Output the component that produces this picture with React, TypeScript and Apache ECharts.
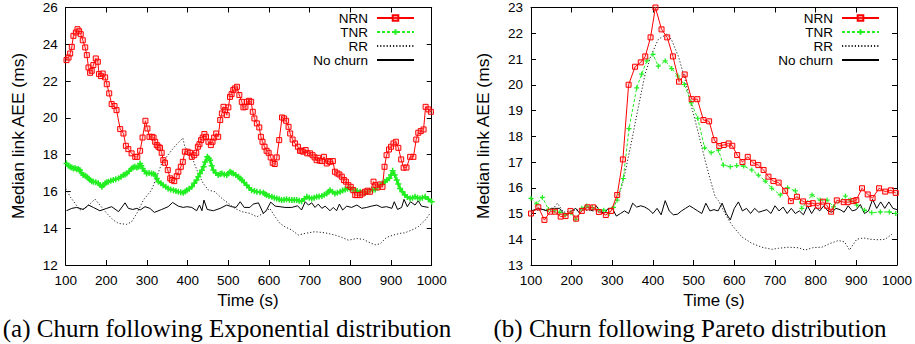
import React, { useEffect, useRef } from "react";
import * as echarts from "echarts";

// ---------- Data: (a) Exponential churn ----------
const expNRN: [number, number][] = [
  [102,23.14],[107,23.28],[111,23.5],[115,23.86],[119,24.46],[125,24.64],[129,24.82],[133,24.71],[137,24.55],[142,24.22],
  [148,23.83],[152,23.41],[156,22.74],[160,22.45],[164,22.56],[168,22.87],[174,23.23],[179,23.05],[182,22.38],[187,22.27],
  [191,22.41],[197,22.2],[201,21.83],[207,21.33],[213,20.75],[220,20.64],[225,20.42],[234,19.39],[242,19.15],[248,18.48],
  [254,18.3],[262,18.07],[271,17.88],[276,17.88],[283,18.21],[289,18.93],[296,19.84],[301,19.42],[306,18.97],[312,18.97],
  [316,18.93],[320,18.7],[324,18.52],[328,18.43],[332,18.37],[336,18.1],[340,17.7],[344,17.56],[351,17.16],[357,16.71],
  [361,16.62],[367,16.56],[373,16.83],[377,17.07],[383,17.34],[388,17.61],[393,18.16],[400,18.16],[406,18.1],[410,17.88],
  [416,17.97],[421,18.1],[425,18.43],[429,18.57],[433,18.79],[437,18.93],[441,19.12],[445,18.97],[451,18.7],[457,18.52],
  [461,18.7],[465,18.93],[470,19.15],[475,18.97],[480,19.88],[484,20.24],[488,20.6],[492,20.42],[496,20.15],[500,20.57],
  [504,21.14],[508,21.29],[512,21.51],[516,21.6],[521,21.69],[527,21.24],[533,20.87],[537,20.57],[542,20.6],[546,20.87],
  [551,20.93],[556,20.87],[560,20.33],[564,19.97],[570,19.7],[576,19.48],[580,18.97],[584,18.7],[589,18.43],[594,18.21],
  [599,18.1],[604,17.85],[609,17.56],[614,17.49],[619,17.85],[625,18.79],[632,20.02],[637,19.97],[642,19.84],[648,19.51],
  [652,19.15],[658,18.82],[664,18.61],[671,18.43],[676,18.21],[680,18.21],[684,18.16],[690,18.25],[694,18.07],[701,18.07],
  [707,17.97],[712,17.85],[717,17.7],[721,17.83],[725,17.67],[730,17.65],[735,17.88],[742,17.52],[746,17.65],[750,17.61],
  [757,17.65],[762,17.07],[768,16.98],[773,16.92],[779,16.8],[784,16.62],[789,16.53],[795,16.34],[801,16.25],[807,16.07],
  [812,15.8],[817,15.8],[824,15.8],[830,15.89],[836,15.98],[842,16.04],[848,15.98],[857,16.53],[862,16.34],[867,16.22],
  [873,16.38],[879,16.25],[884,17.34],[889,17.97],[895,18.28],[900,18.43],[906,18.61],[912,18.7],[918,18.37],[925,17.74],
  [931,17.29],[938,17.3],[947,17.88],[955,17.88],[962,18.82],[967,19.19],[973,19.28],[980,19.37],[985,20.6],[992,20.46],
  [998,20.33]
];
const expTNR: [number, number][] = [
  [102,17.52],[107,17.4],[111,17.34],[115,17.3],[119,17.25],[123,17.28],[127,17.2],[131,17.22],[135,17.16],[139,17.0],
  [143,16.89],[148,16.85],[152,16.8],[156,16.7],[160,16.62],[164,16.55],[168,16.53],[174,16.5],[180,16.44],[185,16.35],
  [189,16.25],[193,16.35],[197,16.44],[201,16.5],[205,16.53],[211,16.58],[217,16.62],[223,16.66],[230,16.71],[236,16.8],
  [242,16.89],[246,16.92],[250,16.98],[256,17.1],[262,17.25],[266,17.3],[270,17.34],[275,17.3],[279,17.34],[283,17.52],
  [286,17.4],[289,17.25],[294,17.1],[299,16.98],[305,17.0],[311,16.98],[316,16.95],[320,16.89],[324,16.7],[328,16.53],
  [334,16.45],[340,16.34],[346,16.25],[352,16.16],[358,16.1],[365,16.07],[371,16.02],[377,15.98],[383,15.95],[389,15.93],
  [394,16.0],[398,16.07],[404,16.15],[410,16.25],[416,16.45],[422,16.62],[426,16.8],[430,16.98],[435,17.15],[439,17.34],
  [443,17.6],[448,17.88],[452,17.8],[455,17.7],[459,17.4],[463,17.16],[469,17.0],[475,16.89],[480,16.95],[484,16.98],
  [490,16.92],[496,16.89],[500,16.98],[504,17.07],[508,17.02],[512,16.98],[518,16.9],[525,16.8],[529,16.7],[533,16.62],
  [539,16.48],[545,16.34],[551,16.2],[557,16.07],[564,16.02],[570,15.98],[578,15.95],[586,15.93],[590,15.86],[594,15.8],
  [600,15.75],[607,15.71],[613,15.66],[619,15.62],[625,15.57],[631,15.53],[637,15.55],[643,15.58],[650,15.55],[656,15.53],
  [662,15.53],[668,15.53],[674,15.5],[680,15.47],[687,15.6],[693,15.71],[699,15.66],[705,15.62],[711,15.66],[717,15.71],
  [723,15.73],[730,15.75],[736,15.82],[742,15.89],[746,15.98],[750,16.07],[756,15.98],[762,15.89],[768,15.93],[775,15.98],
  [781,16.05],[787,16.11],[793,16.14],[799,16.16],[805,16.11],[811,16.07],[817,16.02],[824,15.98],[830,15.95],[836,15.93],
  [842,15.98],[848,16.04],[855,16.08],[861,16.11],[867,16.22],[873,16.34],[879,16.44],[885,16.53],[890,16.62],[896,16.71],
  [900,16.9],[904,17.13],[909,16.9],[914,16.62],[918,16.4],[922,16.16],[928,15.98],[934,15.8],[940,15.7],[947,15.62],
  [953,15.66],[959,15.71],[965,15.66],[971,15.62],[977,15.66],[984,15.71],[992,15.58],[1000,15.44]
];
const expRR: [number, number][] = [
  [100,16.16],[111,15.71],[135,14.99],[148,15.08],[172,15.58],[184,15.26],[201,14.81],[217,14.44],[230,14.26],[250,14.21],
  [262,14.35],[275,14.81],[291,15.53],[311,16.07],[324,16.8],[336,17.52],[348,17.88],[361,18.25],[373,18.57],[388,18.9],
  [393,18.43],[410,17.88],[426,16.98],[438,16.44],[451,16.07],[467,15.98],[484,15.62],[500,15.35],[516,15.08],[533,14.9],
  [553,14.81],[570,14.62],[586,14.81],[602,15.08],[615,14.62],[627,14.26],[639,14.08],[656,13.9],[672,13.63],[689,13.72],
  [713,13.81],[738,13.75],[762,13.63],[779,13.5],[795,13.35],[816,13.44],[832,13.39],[848,13.21],[861,13.1],[873,13.15],
  [889,13.5],[906,13.63],[922,13.72],[934,13.75],[951,13.9],[967,14.08],[984,14.44],[996,14.81]
];
const expNoChurn: [number, number][] = [
  [102,14.95],[115,15.08],[127,15.13],[143,15.02],[156,15.26],[168,15.13],[184,14.95],[201,15.08],[213,15.17],[230,14.9],
  [246,15.38],[254,15.08],[265,15.02],[275,15.08],[283,14.99],[295,15.17],[307,15.08],[318,14.86],[336,15.02],[352,15.17],
  [363,15.4],[377,15.2],[389,15.13],[398,15.17],[410,15.13],[422,14.95],[429,15.26],[435,14.95],[440,15.53],[448,15.02],
  [463,14.95],[480,15.08],[496,15.26],[508,15.17],[519,15.13],[529,15.44],[539,15.13],[553,15.13],[561,15.31],[574,15.38],
  [586,14.8],[594,14.99],[604,15.42],[615,15.2],[627,15.17],[639,15.13],[656,15.13],[670,15.22],[680,14.99],[689,15.44],
  [697,15.26],[705,15.38],[713,15.13],[721,15.31],[730,15.08],[738,15.2],[750,14.95],[758,15.13],[766,14.95],[773,15.31],
  [781,14.99],[791,15.2],[803,15.13],[816,15.26],[828,15.08],[840,15.13],[852,15.2],[865,15.26],[877,15.13],[889,15.17],
  [902,15.08],[908,15.44],[916,15.02],[926,15.13],[932,15.57],[940,15.17],[948,15.44],[959,15.26],[967,15.49],[975,15.2],
  [992,15.13]
];

// ---------- Data: (b) Pareto churn ----------
const parNRN: [number, number][] = [
  [100,15.0],[118,15.24],[133,14.75],[147,15.07],[159,15.07],[173,14.88],[185,14.9],[197,15.1],[211,14.8],[225,15.1],
  [239,15.24],[253,15.24],[267,15.06],[284,14.94],[297,15.1],[312,15.72],[326,17.1],[340,20.0],[356,20.7],[370,20.87],
  [381,21.1],[394,21.84],[406,23.0],[421,22.15],[435,21.84],[449,21.1],[464,20.12],[478,20.4],[495,19.44],[509,19.44],
  [524,18.63],[538,18.58],[551,17.85],[563,17.62],[574,17.66],[586,17.72],[595,17.63],[607,17.27],[620,17.0],[633,17.2],
  [646,16.97],[659,16.88],[672,16.69],[684,16.43],[696,16.26],[709,16.2],[725,15.88],[739,15.48],[754,15.65],[769,15.47],
  [783,15.37],[793,15.4],[806,15.3],[818,15.46],[828,15.3],[838,15.07],[852,15.51],[869,15.44],[879,15.44],[893,15.48],
  [900,15.52],[914,15.98],[928,15.74],[940,15.6],[956,15.98],[971,15.85],[985,15.9],[997,15.8]
];
const parTNR: [number, number][] = [
  [100,15.59],[114,15.37],[128,15.63],[143,15.16],[157,15.11],[171,15.04],[184,14.94],[198,15.03],[210,14.77],[225,15.2],
  [237,15.29],[251,15.23],[266,15.13],[279,15.13],[292,15.0],[303,15.24],[312,15.52],[327,16.36],[341,18.3],[360,19.88],
  [372,20.41],[385,20.93],[400,21.18],[413,20.72],[430,20.93],[446,20.63],[461,20.34],[477,20.01],[494,19.3],[510,18.7],
  [527,17.55],[543,17.36],[561,17.46],[573,16.88],[590,16.82],[606,16.86],[623,16.84],[643,16.69],[659,16.49],[676,16.26],
  [692,15.98],[713,15.72],[731,16.0],[750,15.88],[766,15.2],[791,15.72],[811,15.52],[828,15.52],[844,15.26],[873,15.68],
  [885,15.52],[901,15.33],[920,15.13],[938,15.03],[959,15.06],[981,15.06],[997,15.0]
];
const parRR: [number, number][] = [
  [100,15.1],[130,15.15],[150,15.1],[165,15.4],[180,15.05],[200,15.1],[220,15.15],[250,15.1],[280,15.1],[300,15.2],
  [311,15.52],[323,16.04],[331,16.56],[348,17.85],[364,19.14],[381,20.44],[397,21.2],[413,21.76],[434,21.97],[446,21.73],
  [463,21.08],[479,20.18],[495,19.14],[512,18.1],[528,17.07],[541,16.3],[553,15.65],[561,15.5],[577,15.0],[594,14.55],
  [618,14.1],[643,13.84],[668,13.69],[692,13.61],[709,13.65],[733,13.69],[758,13.67],[774,13.58],[795,13.68],[815,13.69],
  [836,13.84],[856,13.95],[871,13.9],[883,13.58],[901,14.0],[918,14.05],[934,14.0],[955,13.98],[971,14.0],[988,14.2]
];
const parNoChurn: [number, number][] = [
  [100,15.1],[120,15.2],[140,15.1],[150,15.2],[170,15.2],[180,15.0],[190,14.95],[200,15.1],[210,15.2],[220,15.0],
  [235,15.3],[250,15.1],[260,15.3],[270,15.1],[280,15.0],[290,15.2],[300,15.2],[310,14.9],[320,15.0],[330,15.1],
  [340,15.0],[350,15.4],[360,15.25],[370,15.3],[380,15.25],[390,15.15],[400,15.0],[410,15.2],[420,14.95],[430,15.5],
  [440,15.1],[450,14.95],[460,14.97],[470,15.1],[480,15.2],[490,15.3],[500,15.2],[510,15.1],[520,15.0],[530,15.4],
  [540,15.1],[550,15.15],[560,15.1],[570,15.4],[580,15.0],[590,14.75],[600,15.2],[610,15.45],[620,15.1],[630,15.2],
  [640,15.0],[650,15.2],[660,15.05],[670,15.1],[680,15.15],[690,15.0],[700,15.3],[710,15.1],[720,15.25],[730,15.0],
  [740,15.2],[750,15.0],[760,15.1],[770,14.95],[780,15.3],[790,15.0],[800,15.25],[810,15.1],[820,15.3],[830,15.1],
  [840,15.05],[850,15.2],[860,15.15],[870,15.05],[880,15.3],[890,15.1],[900,15.15],[910,15.35],[920,15.0],[930,15.1],
  [940,15.55],[950,15.2],[960,15.45],[970,15.2],[980,15.45],[990,15.2],[1000,15.15]
];

const seriesNames = ["NRN", "TNR", "RR", "No churn"];
const xTicks = { min: 100, max: 1000, interval: 100 };
const yTicksA = { min: 12, max: 26, interval: 2 };
const yTicksB = { min: 13, max: 23, interval: 1 };
const yAxisTitle = "Median link AEE (ms)";
const xAxisTitle = "Time (s)";
const captions = ["(a) Churn following Exponential distribution", "(b) Churn following Pareto distribution"];

const SANS = "'Liberation Sans', Arial, Helvetica, sans-serif";
const SERIF = "'Liberation Serif', 'Times New Roman', serif";
const RED = "#ff0000";
const GREEN = "#22ee22";
const PLUS = "path://M0,5L10,5M5,0L5,10";

function makeSeries(data: [number, number][][], axisIdx: number, denseGreen: boolean) {
  const [nrn, tnr, rr, nc] = data;
  return [
    {
      name: seriesNames[0], type: "line", xAxisIndex: axisIdx, yAxisIndex: axisIdx, data: nrn,
      symbol: "rect", symbolSize: 5, z: 5,
      lineStyle: { color: RED, width: 1 },
      itemStyle: { color: "rgba(255,120,120,0.25)", borderColor: RED, borderWidth: 1 },
    },
    {
      name: seriesNames[1], type: "line", xAxisIndex: axisIdx, yAxisIndex: axisIdx, data: tnr,
      symbol: PLUS, symbolSize: denseGreen ? 6 : 5, z: 4,
      lineStyle: denseGreen ? { color: GREEN, width: 2.5 } : { color: GREEN, width: 1, type: [3, 2] },
      itemStyle: { color: GREEN, borderColor: GREEN, borderWidth: denseGreen ? 1.5 : 1.2 },
    },
    {
      name: seriesNames[2], type: "line", xAxisIndex: axisIdx, yAxisIndex: axisIdx, data: rr,
      symbol: "none", z: 3,
      lineStyle: { color: "#222", width: 1, type: [1.2, 2] },
      itemStyle: { color: "#222" },
    },
    {
      name: seriesNames[3], type: "line", xAxisIndex: axisIdx, yAxisIndex: axisIdx, data: nc,
      symbol: "none", z: 3,
      lineStyle: { color: "#000", width: 1 },
      itemStyle: { color: "#000" },
    },
  ];
}

const tickLabel = { show: true, margin: 8, color: "#000", fontSize: 13.5, fontFamily: SANS, formatter: (v: number) => String(v) };

function xAxes(gridIndex: number) {
  const common = {
    type: "value", gridIndex, ...xTicks,
    axisLine: { show: true, onZero: false, lineStyle: { color: "#000", width: 1 } },
    axisTick: { show: true, inside: true, length: 5, lineStyle: { color: "#000" } },
    splitLine: { show: false },
  };
  return [
    { ...common, position: "bottom", axisLabel: tickLabel },
    { ...common, position: "top", axisLabel: { show: false } },
  ];
}
function yAxes(gridIndex: number, ticks: { min: number; max: number; interval: number }) {
  const common = {
    type: "value", gridIndex, ...ticks,
    axisLine: { show: true, onZero: false, lineStyle: { color: "#000", width: 1 } },
    axisTick: { show: true, inside: true, length: 5, lineStyle: { color: "#000" } },
    splitLine: { show: false },
  };
  return [
    { ...common, position: "left", axisLabel: tickLabel },
    { ...common, position: "right", axisLabel: { show: false } },
  ];
}

function legendAt(right: number) {
  return {
    data: [
      { name: seriesNames[0] },
      { name: seriesNames[1] },
      { name: seriesNames[2], itemStyle: { opacity: 0 } },
      { name: seriesNames[3], itemStyle: { opacity: 0 } },
    ],
    orient: "vertical", align: "right", right, top: 11, padding: 0,
    itemWidth: 37, itemHeight: 7, itemGap: 0,
    textStyle: { color: "#000", fontSize: 13.5, fontFamily: SANS, lineHeight: 13.7, padding: [0, 4, 0, 0] },
    selectedMode: false,
  };
}

function textEl(text: string, x: number, y: number, size: number, family: string, rotation = 0) {
  return {
    type: "text", x, y, rotation,
    style: { text, fontSize: size, fontFamily: family, fill: "#000", align: "center", verticalAlign: "middle" },
  };
}

export default function App() {
  const ref = useRef<HTMLDivElement>(null);
  useEffect(() => {
    document.body.style.margin = "0";
    if (!ref.current) return;
    const chart = echarts.init(ref.current, null, { renderer: "svg" });
    chart.setOption({
      animation: false,
      backgroundColor: "#fff",
      grid: [
        { left: 65.7, top: 7.5, width: 366, height: 257.5 },
        { left: 531, top: 7.5, width: 366, height: 257.5 },
      ],
      xAxis: [...xAxes(0), ...xAxes(1)],
      yAxis: [...yAxes(0, yTicksA), ...yAxes(1, yTicksB)],
      legend: [legendAt(500), legendAt(35)],
      // panel (b) series listed first so the legend takes its dashed TNR style
      series: [
        ...makeSeries([parNRN, parTNR, parRR, parNoChurn], 2, false),
        ...makeSeries([expNRN, expTNR, expRR, expNoChurn], 0, true),
      ],
      graphic: [
        textEl(yAxisTitle, 18, 136, 17.4, SANS, Math.PI / 2),
        textEl(yAxisTitle, 483, 136, 17.4, SANS, Math.PI / 2),
        textEl(xAxisTitle, 248, 300, 16.9, SANS),
        textEl(xAxisTitle, 714, 300, 16.9, SANS),
        textEl(captions[0], 227, 328, 25, SERIF),
        textEl(captions[1], 690, 328, 25, SERIF),
      ],
    });
    return () => chart.dispose();
  }, []);
  return <div ref={ref} style={{ width: 915, height: 344 }} />;
}
